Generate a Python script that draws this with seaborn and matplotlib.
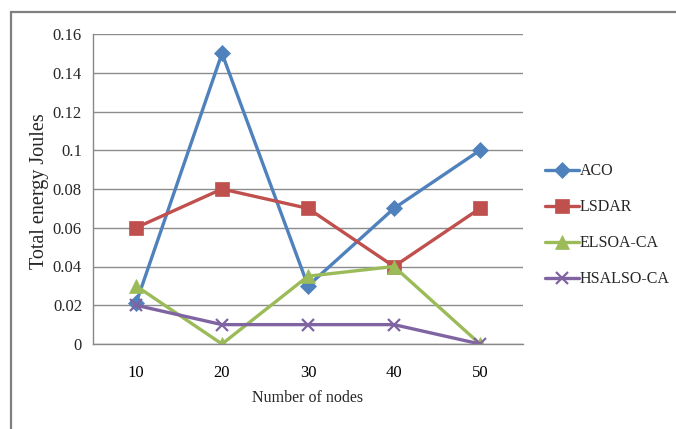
import matplotlib
matplotlib.use("Agg")
import matplotlib.pyplot as plt
import seaborn as sns
import pandas as pd
from matplotlib.patches import Rectangle
from matplotlib.ticker import FixedLocator, NullFormatter

nodes = ["10", "20", "30", "40", "50"]
aco = [0.021, 0.15, 0.03, 0.07, 0.10]
lsdar = [0.06, 0.08, 0.07, 0.04, 0.07]
elsoa_ca = [0.03, 0.0, 0.035, 0.04, 0.0]
hsalso_ca = [0.02, 0.01, 0.01, 0.01, 0.0]

series = {"ACO": aco, "LSDAR": lsdar, "ELSOA-CA": elsoa_ca, "HSALSO-CA": hsalso_ca}
colors = {"ACO": "#4F81BD", "LSDAR": "#C0504D", "ELSOA-CA": "#9BBB59", "HSALSO-CA": "#8064A2"}
markers = {"ACO": "D", "LSDAR": "s", "ELSOA-CA": "^", "HSALSO-CA": "x"}
msizes = {"ACO": 8.5, "LSDAR": 10, "ELSOA-CA": 10, "HSALSO-CA": 9}

rows = []
for name, vals in series.items():
    for n, v in zip(nodes, vals):
        rows.append({"nodes": n, "energy": v, "algo": name})
df = pd.DataFrame(rows)

sns.set_theme(style="white")
plt.rcParams["font.family"] = ["Liberation Serif", "DejaVu Serif"]

fig = plt.figure(figsize=(6.76, 4.29), dpi=100)
ax = fig.add_axes([93 / 676, 1 - 344 / 429, 430 / 676, 310 / 429])

pos = list(range(len(nodes)))
for name in series:
    sub = df[df["algo"] == name]
    sns.lineplot(x=[nodes.index(n) for n in sub["nodes"]], y=sub["energy"].values, ax=ax,
                 color=colors[name], marker=markers[name], markersize=msizes[name],
                 markeredgecolor=colors[name], markeredgewidth=1.6 if name == "HSALSO-CA" else 0.5,
                 linewidth=2.4, label=name, legend=False)

ax.set_xlim(-0.5, len(nodes) - 0.5)
ax.set_ylim(0, 0.16)
ax.set_yticks([0, 0.02, 0.04, 0.06, 0.08, 0.1, 0.12, 0.14, 0.16])
ax.set_yticklabels(["0", "0.02", "0.04", "0.06", "0.08", "0.1", "0.12", "0.14", "0.16"])
ax.set_xticks(pos)
ax.set_xticklabels(nodes)
ax.xaxis.set_minor_locator(FixedLocator([p - 0.5 for p in range(len(nodes) + 1)]))
ax.xaxis.set_minor_formatter(NullFormatter())
ax.tick_params(axis="x", which="major", length=0, pad=15, labelsize=12, colors="black")
ax.tick_params(axis="x", which="minor", length=5, width=1, color="#888888", direction="out")
ax.tick_params(axis="y", length=4, width=1, color="#888888", direction="out", labelsize=12, pad=4)
ax.yaxis.grid(True, color="#8c8c8c", linewidth=1)
ax.xaxis.grid(False)
for s in ["top", "right"]:
    ax.spines[s].set_visible(False)
for s in ["left", "bottom"]:
    ax.spines[s].set_color("#888888")
    ax.spines[s].set_linewidth(1)
ax.set_axisbelow(True)

ax.set_xlabel("Number of nodes", fontsize=11.5)
ax.xaxis.set_label_coords((308 - 93) / 430, -(398 - 344) / 310)
ax.xaxis.label.set_va("center")
ax.set_ylabel("Total energy Joules", fontsize=14.5)
ax.yaxis.set_label_coords(-(93 - 40) / 430, (344 - 191) / 310)
ax.yaxis.label.set_va("center")

handles, labels = ax.get_legend_handles_labels()
fig.legend(handles, labels, loc="upper left", bbox_to_anchor=(539 / 676, 1 - 157 / 429),
           frameon=False, fontsize=11.5, handlelength=2.1, handletextpad=0.05,
           labelspacing=1.25, borderaxespad=0)

fig.patches.append(Rectangle((11 / 676, -0.05), 1.0, 1 - 12 / 429 + 0.05,
                             transform=fig.transFigure, fill=False,
                             edgecolor="#7f7f7f", linewidth=1.6))

fig.savefig("out.png", dpi=100)
